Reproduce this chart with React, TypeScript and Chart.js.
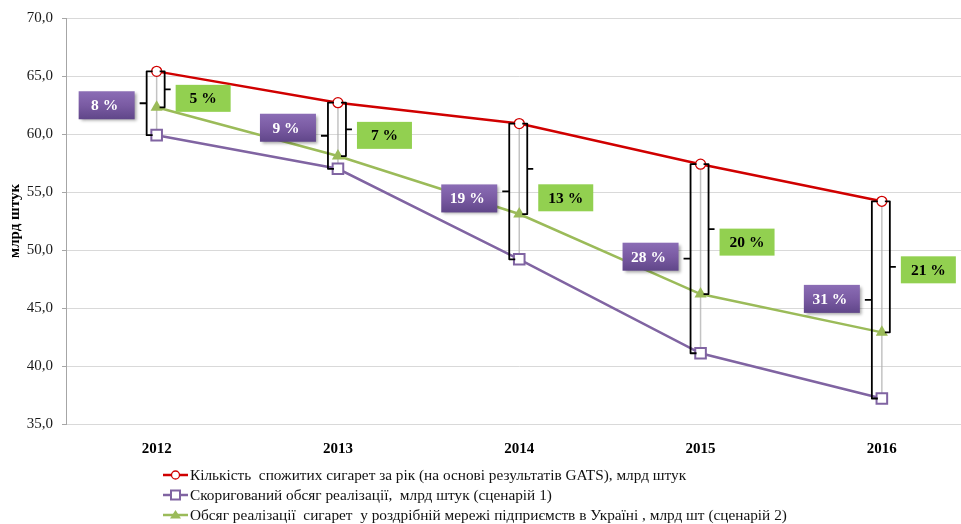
import React, { useEffect, useRef } from 'react';
import { Chart, registerables } from 'chart.js';

Chart.register(...registerables);

// ---- data ----
const years = ['2012', '2013', '2014', '2015', '2016'];
const consumedGATS = [65.4, 62.7, 60.9, 57.4, 54.2];
const adjustedSales = [59.9, 57.0, 49.2, 41.1, 37.2];
const retailSales = [62.3, 58.1, 53.1, 46.2, 42.9];
const gapScenario1Pct = [8, 9, 19, 28, 31];
const gapScenario2Pct = [5, 7, 13, 20, 21];
const yMin = 35;
const yMax = 70;
const yStep = 5;
const yTitle = 'млрд штук';
const seriesNames = [
  'Кількість  спожитих сигарет за рік (на основі результатів GATS), млрд штук',
  'Скоригований обсяг реалізації,  млрд штук (сценарій 1)',
  'Обсяг реалізації  сигарет  у роздрібній мережі підприємств в Україні , млрд шт (сценарій 2)',
];

// ---- styling / layout ----
const RED = '#d00000';
const PURPLE = '#8064a2';
const GREEN = '#9bbb59';
const SERIF = '"Liberation Serif", "Times New Roman", serif';
const purpleDy = [2, -8, 7, -2, -1];
const greenDy = [9, 6, 29, 13, 3];

function drawMarker(ctx: CanvasRenderingContext2D, kind: string, x: number, y: number, s: number) {
  ctx.save();
  if (kind === 'circle') {
    ctx.beginPath();
    ctx.arc(x, y, s, 0, Math.PI * 2);
    ctx.fillStyle = '#fff';
    ctx.fill();
    ctx.strokeStyle = RED;
    ctx.lineWidth = 1.3;
    ctx.stroke();
  } else if (kind === 'rect') {
    ctx.fillStyle = '#fff';
    ctx.fillRect(x - s, y - s, 2 * s, 2 * s);
    ctx.strokeStyle = PURPLE;
    ctx.lineWidth = 2;
    ctx.strokeRect(x - s, y - s, 2 * s, 2 * s);
  } else {
    ctx.beginPath();
    ctx.moveTo(x, y - s);
    ctx.lineTo(x + s * 1.1, y + s * 0.7);
    ctx.lineTo(x - s * 1.1, y + s * 0.7);
    ctx.closePath();
    ctx.fillStyle = GREEN;
    ctx.fill();
  }
  ctx.restore();
}

const annotPlugin = {
  id: 'annot',
  beforeDatasetsDraw(chart: any) {
    const { ctx } = chart;
    const xs = chart.scales.x;
    const ys = chart.scales.y;
    ctx.save();
    ctx.strokeStyle = 'rgba(175,175,175,0.75)';
    ctx.lineWidth = 1.5;
    years.forEach((_, i) => {
      const cx = xs.getPixelForValue(i);
      ctx.beginPath();
      ctx.moveTo(cx, ys.getPixelForValue(consumedGATS[i]));
      ctx.lineTo(cx, ys.getPixelForValue(adjustedSales[i]));
      ctx.stroke();
    });
    ctx.restore();
  },
  afterDatasetsDraw(chart: any) {
    const { ctx } = chart;
    const xs = chart.scales.x;
    const ys = chart.scales.y;
    ctx.save();
    ctx.strokeStyle = '#000';
    ctx.lineWidth = 1.8;
    ctx.lineJoin = 'round';
    ctx.lineCap = 'butt';
    years.forEach((_, i) => {
      const cx = xs.getPixelForValue(i);
      const yTop = ys.getPixelForValue(consumedGATS[i]);
      const yP = ys.getPixelForValue(adjustedSales[i]);
      const yG = ys.getPixelForValue(retailSales[i]);
      // left bracket (scenario 1)
      const bl = cx - 10;
      const midL = (yTop + yP) / 2;
      ctx.beginPath();
      ctx.moveTo(bl + 6, yTop);
      ctx.lineTo(bl, yTop);
      ctx.lineTo(bl, yP);
      ctx.lineTo(bl + 6, yP);
      ctx.moveTo(bl, midL);
      ctx.lineTo(bl - 7, midL);
      ctx.stroke();
      // right bracket (scenario 2)
      const br = cx + 8;
      const midR = (yTop + yG) / 2;
      ctx.beginPath();
      ctx.moveTo(br - 5, yTop);
      ctx.lineTo(br, yTop);
      ctx.lineTo(br, yG);
      ctx.lineTo(br - 5, yG);
      ctx.moveTo(br, midR);
      ctx.lineTo(br + 6, midR);
      ctx.stroke();

      // purple label box
      const pw = 56, ph = 28;
      const px = bl - 12 - pw;
      const py = midL + purpleDy[i] - ph / 2;
      ctx.save();
      ctx.shadowColor = 'rgba(0,0,0,0.35)';
      ctx.shadowOffsetX = 2;
      ctx.shadowOffsetY = 2;
      ctx.shadowBlur = 3;
      const grad = ctx.createLinearGradient(0, py, 0, py + ph);
      grad.addColorStop(0, '#8b6db5');
      grad.addColorStop(0.5, '#7a5ba3');
      grad.addColorStop(1, '#604689');
      ctx.fillStyle = grad;
      ctx.fillRect(px, py, pw, ph);
      ctx.restore();
      ctx.fillStyle = '#fff';
      ctx.font = `bold 15.5px ${SERIF}`;
      ctx.textAlign = 'center';
      ctx.textBaseline = 'middle';
      ctx.fillText(`${gapScenario1Pct[i]} %`, px + pw / 2 - 2, py + ph / 2 + 1);

      // green label box
      const gw = 55, gh = 27;
      const gx = br + 11;
      const gy = midR + greenDy[i] - gh / 2;
      ctx.fillStyle = '#92d050';
      ctx.fillRect(gx, gy, gw, gh);
      ctx.fillStyle = '#000';
      ctx.fillText(`${gapScenario2Pct[i]} %`, gx + gw / 2, gy + gh / 2 + 1);
    });
    ctx.restore();
  },
  afterDraw(chart: any) {
    const { ctx } = chart;
    const colors = [RED, PURPLE, GREEN];
    const kinds = ['circle', 'rect', 'triangle'];
    const rows = [475, 495, 515];
    ctx.save();
    seriesNames.forEach((name, i) => {
      const y = rows[i];
      ctx.strokeStyle = colors[i];
      ctx.lineWidth = 2.5;
      ctx.beginPath();
      ctx.moveTo(163, y);
      ctx.lineTo(188, y);
      ctx.stroke();
      drawMarker(ctx, kinds[i], 175.5, y, kinds[i] === 'circle' ? 4 : kinds[i] === 'rect' ? 4.5 : 5);
      ctx.fillStyle = '#111';
      ctx.font = `15.3px ${SERIF}`;
      ctx.textAlign = 'left';
      ctx.textBaseline = 'middle';
      ctx.fillText(name, 190, y + 1);
    });
    ctx.restore();
  },
};

export default function App() {
  const ref = useRef<HTMLCanvasElement | null>(null);
  useEffect(() => {
    if (!ref.current) return;
    const chart = new Chart(ref.current, {
      type: 'line',
      data: {
        labels: years,
        datasets: [
          {
            label: seriesNames[0],
            data: consumedGATS,
            borderColor: RED,
            borderWidth: 2.5,
            pointStyle: 'circle',
            pointRadius: 5,
            pointBorderWidth: 1.3,
            pointBackgroundColor: '#fff',
            pointBorderColor: RED,
            tension: 0,
          },
          {
            label: seriesNames[1],
            data: adjustedSales,
            borderColor: PURPLE,
            borderWidth: 2.5,
            pointStyle: 'rect',
            pointRadius: 7.5,
            pointBorderWidth: 2,
            pointBackgroundColor: '#fff',
            pointBorderColor: PURPLE,
            tension: 0,
          },
          {
            label: seriesNames[2],
            data: retailSales,
            borderColor: GREEN,
            borderWidth: 2.5,
            pointStyle: 'triangle',
            pointRadius: 7,
            pointBorderWidth: 0,
            pointBackgroundColor: GREEN,
            pointBorderColor: GREEN,
            tension: 0,
          },
        ],
      },
      options: {
        responsive: false,
        animation: false,
        devicePixelRatio: 1,
        layout: { padding: { left: 0, right: 0, top: 17, bottom: 0 } },
        plugins: { legend: { display: false }, tooltip: { enabled: false } },
        scales: {
          x: {
            type: 'category',
            offset: true,
            grid: { display: false },
            border: { display: true, color: '#d9d9d9', width: 1 },
            ticks: {
              color: '#000',
              font: { family: SERIF, size: 15, weight: 'bold' },
              padding: 8,
              maxRotation: 0,
            },
            afterFit: (s: any) => {
              s.height = 100;
            },
          },
          y: {
            min: yMin,
            max: yMax,
            border: { display: true, color: '#a6a6a6', width: 1 },
            grid: { color: '#d9d9d9', lineWidth: 1, tickLength: 4, tickColor: '#a6a6a6' },
            ticks: {
              stepSize: yStep,
              color: '#1a1a1a',
              font: { family: SERIF, size: 15 },
              padding: 9,
              callback: (v: any) => Number(v).toFixed(1).replace('.', ','),
            },
            title: {
              display: true,
              text: yTitle,
              color: '#000',
              font: { family: SERIF, size: 15, weight: 'bold' },
              padding: { top: 6, bottom: 0 },
            },
            afterFit: (s: any) => {
              s.width = 66;
            },
          },
        },
      },
      plugins: [annotPlugin],
    });
    return () => chart.destroy();
  }, []);
  return (
    <div style={{ position: 'fixed', left: 0, top: 0, width: 961, height: 524, overflow: 'hidden', background: '#fff' }}>
      <canvas ref={ref} width={982} height={524} style={{ display: 'block', width: 982, height: 524 }} />
    </div>
  );
}
